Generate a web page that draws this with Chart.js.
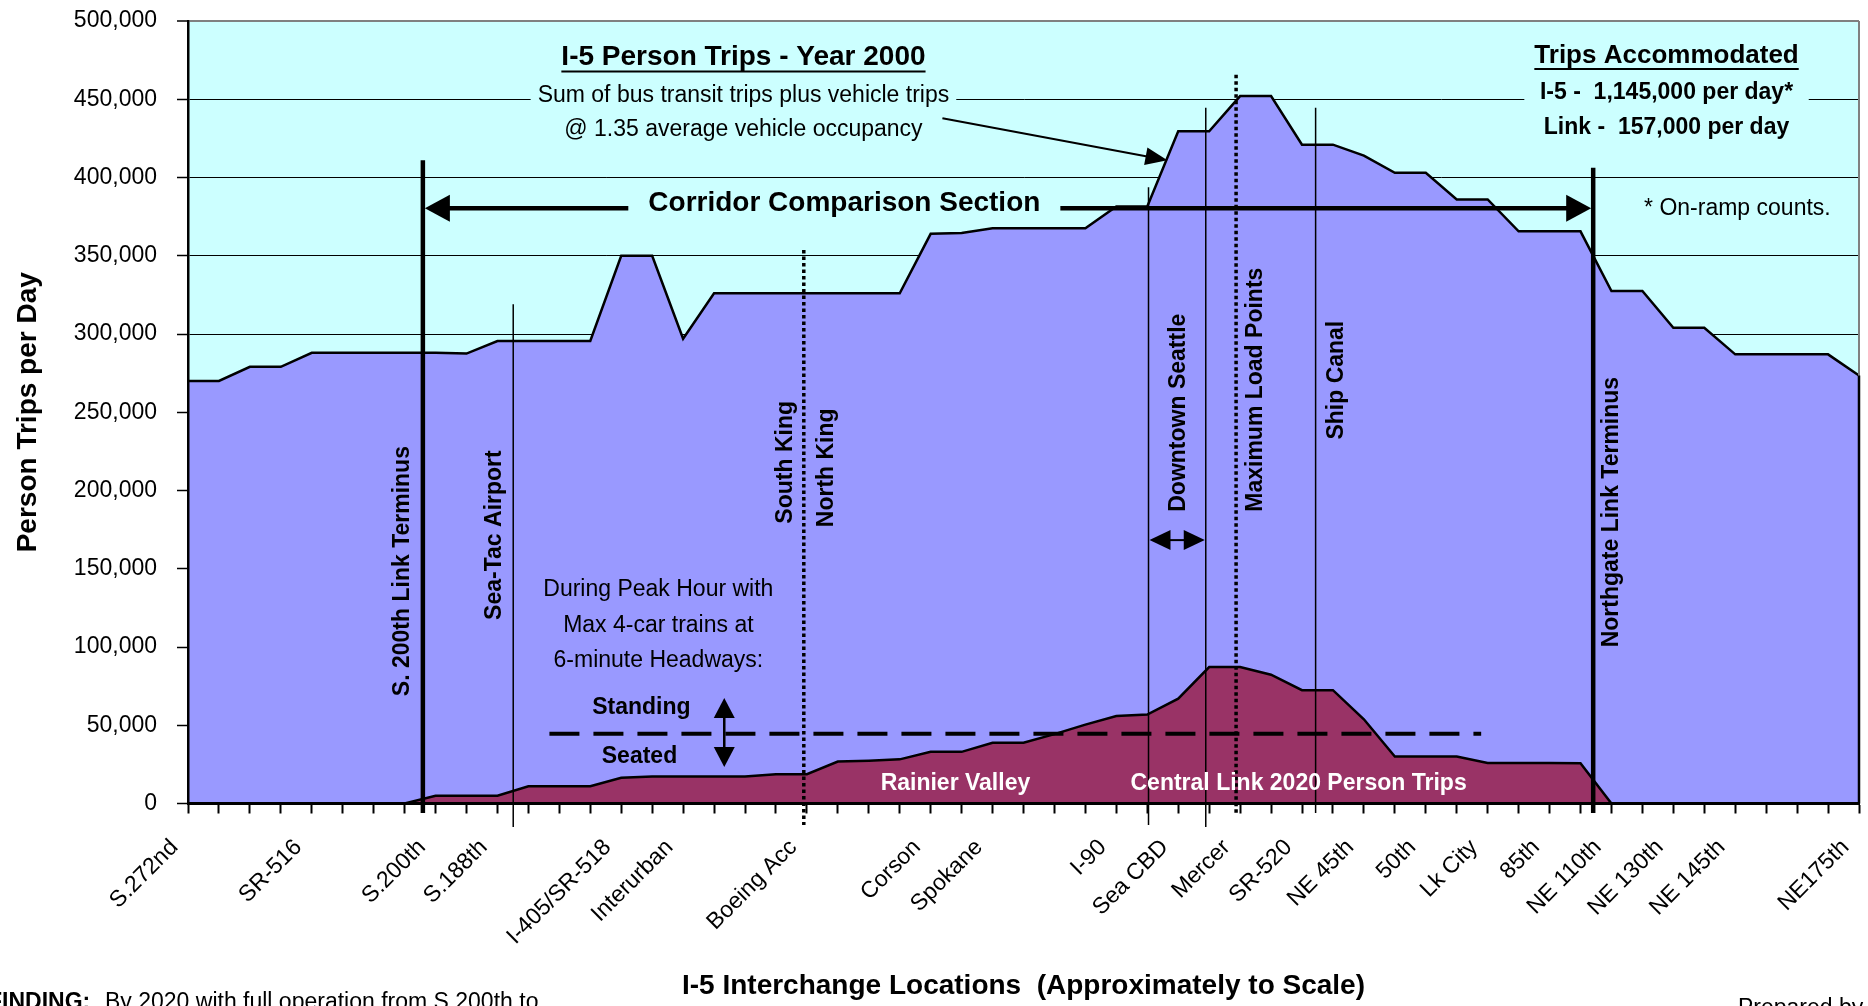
<!DOCTYPE html>
<html>
<head>
<meta charset="utf-8">
<title>I-5 Person Trips - Year 2000</title>
<script src="https://cdn.jsdelivr.net/npm/chart.js@4.4.1/dist/chart.umd.min.js"></script>
<style>
    html, body { margin: 0; padding: 0; background: #ffffff; overflow: hidden; }
    canvas { display: block; }
</style>
</head>
<body>
<canvas id="tripsChart" width="1868" height="1006"></canvas>
<script>
// one slot per tick on the x axis, most of them unlabeled
const interchanges = [
    'S.272nd', '', '', '', 'SR-516',
    '', '', '', 'S.200th', '',
    'S.188th', '', '', '', 'I-405/SR-518',
    '', 'Interurban', '', '', '',
    'Boeing Acc', '', '', '', 'Corson',
    '', 'Spokane', '', '', '',
    'I-90', '', 'Sea CBD', '', 'Mercer',
    '', 'SR-520', '', 'NE 45th', '',
    '50th', '', 'Lk City', '', '85th',
    '', 'NE 110th', '', 'NE 130th', '',
    'NE 145th', '', '', '', 'NE175th'
];

// I-5 person trips, year 2000
const i5Trips = [
    270000, 270000, 279000, 279000, 288000,
    288000, 288000, 288000, 288000, 287500,
    295500, 295500, 295500, 295500, 350000,
    350000, 297000, 326000, 326000, 326000,
    326000, 326000, 326000, 326000, 364000,
    364500, 367500, 367500, 367500, 367500,
    381500, 381500, 429500, 429500, 452000,
    452000, 421000, 421000, 414000, 403000,
    403000, 386000, 386000, 365600, 365600,
    365600, 327500, 327500, 304000, 304000,
    287000, 287000, 287000, 287000, 273500
];

// Central Link 2020 person trips
const linkTrips = [
    0, 0, 0, 0, 0,
    0, 0, 0, 5000, 5000,
    5000, 11000, 11000, 11000, 16500,
    17300, 17300, 17300, 17300, 18700,
    18700, 26800, 27300, 28200, 33000,
    33000, 38800, 38800, 44300, 50400,
    55900, 56800, 67000, 87200, 87200,
    82300, 72400, 72400, 53800, 30000,
    30000, 30000, 25900, 25900, 25900,
    25700, 0, 0, 0, 0,
    0, 0, 0, 0, 0
];

const yTicks = [0, 50000, 100000, 150000, 200000, 250000, 300000, 350000, 400000, 450000, 500000];

const PLOT_BG = '#CCFFFF';

function fontExists(name) {
    const c = document.createElement('canvas').getContext('2d');
    const s = 'Wg0123456789 abcdefghijklmnopqrstuvwxyz';
    c.font = '40px monospace';
    const w0 = c.measureText(s).width;
    c.font = '40px "' + name + '", monospace';
    return c.measureText(s).width !== w0;
}
const hasNarrow = fontExists('Liberation Sans Narrow');
const smallFamily = hasNarrow ? '"Liberation Sans Narrow", "Liberation Sans", sans-serif' : '"Liberation Sans", Arial, sans-serif';
const smallSize = hasNarrow ? 28 : 23;
const bigFamily = '"Liberation Sans", Arial, sans-serif';
const SMALL = smallSize + 'px ' + smallFamily;
const SMALL_BOLD = 'bold ' + SMALL;
const BIG_BOLD = 'bold 28px ' + bigFamily;

Chart.defaults.color = '#000';
Chart.defaults.font.family = smallFamily;

function seg(ctx, x1, y1, x2, y2) {
    ctx.beginPath();
    ctx.moveTo(x1, y1);
    ctx.lineTo(x2, y2);
    ctx.stroke();
}

// filled arrow head, tip at (x, y), pointing along (dx, dy)
function head(ctx, x, y, dx, dy, len, half) {
    const d = Math.hypot(dx, dy);
    const ux = dx / d, uy = dy / d;
    ctx.beginPath();
    ctx.moveTo(x, y);
    ctx.lineTo(x - ux * len - uy * half, y - uy * len + ux * half);
    ctx.lineTo(x - ux * len + uy * half, y - uy * len - ux * half);
    ctx.closePath();
    ctx.fill();
}

function label(ctx, str, x, y, font, color, vertical) {
    ctx.save();
    ctx.font = font;
    ctx.fillStyle = color || '#000';
    ctx.textAlign = 'center';
    ctx.textBaseline = 'middle';
    ctx.translate(x, y);
    if (vertical) ctx.rotate(-Math.PI / 2);
    ctx.fillText(str, 0, 0);
    const w = ctx.measureText(str).width;
    ctx.restore();
    return w;
}

function textWidth(ctx, str, font) {
    ctx.save();
    ctx.font = font;
    const w = ctx.measureText(str).width;
    ctx.restore();
    return w;
}

// marker lines, in category index / trips units
const vMarkers = [
    { at: 7.59, from: 411000, to: -6000, w: 4.5 },
    { at: 10.51, from: 319000, to: -15000, w: 1.5 },
    { at: 19.9, from: 353700, to: -13700, w: 3.5, dash: [3.5, 3] },
    { at: 31.04, from: 393800, to: -13700, w: 1.5 },
    { at: 32.89, from: 444500, to: -15000, w: 1.5 },
    { at: 33.87, from: 465600, to: -6000, w: 3.5, dash: [3.5, 3] },
    { at: 36.44, from: 444500, to: -6000, w: 1.5 },
    { at: 45.41, from: 406200, to: -6000, w: 4.5 }
];

const vLabels = [
    ['S. 200th Link Terminus', 6.93, 148500],
    ['Sea-Tac Airport', 9.92, 171500],
    ['South King', 19.3, 218000],
    ['North King', 20.65, 214500],
    ['Downtown Seattle', 32.0, 249700],
    ['Maximum Load Points', 34.49, 264400],
    ['Ship Canal', 37.11, 270500],
    ['Northgate Link Terminus', 46.0, 186200]
];

const notes = {
    id: 'notes',
    beforeDraw(chart) {
        const { ctx, chartArea: a } = chart;
        ctx.save();
        ctx.fillStyle = PLOT_BG;
        ctx.fillRect(a.left, a.top, a.right - a.left, a.bottom - a.top);
        ctx.restore();
    },
    afterDatasetsDraw(chart) {
        const { ctx, chartArea: a } = chart;
        const X = i => chart.scales.x.getPixelForValue(i);
        const Y = v => chart.scales.y.getPixelForValue(v);
        ctx.save();
        ctx.lineCap = 'butt';

        // right frame and closing edge of the I-5 area
        ctx.strokeStyle = '#808080';
        ctx.lineWidth = 2;
        seg(ctx, a.right, a.top, a.right, a.bottom);
        const pts = chart.getDatasetMeta(0).data;
        const last = pts[pts.length - 1];
        ctx.strokeStyle = '#000';
        ctx.lineWidth = 2.5;
        seg(ctx, last.x, last.y, last.x, a.bottom);

        // vertical markers
        vMarkers.forEach(m => {
            ctx.lineWidth = m.w;
            ctx.setLineDash(m.dash || []);
            seg(ctx, X(m.at), Y(m.from), X(m.at), Y(m.to));
        });
        ctx.setLineDash([]);
        vLabels.forEach(l => label(ctx, l[0], X(l[1]), Y(l[2]), SMALL_BOLD, '#000', true));

        // title block
        const tx = X(17.95);
        const tw = label(ctx, 'I-5 Person Trips - Year 2000', tx, Y(477000), BIG_BOLD);
        ctx.lineWidth = 2;
        seg(ctx, tx - tw / 2, Y(477000) + 14.5, tx + tw / 2, Y(477000) + 14.5);
        const sumText = 'Sum of bus transit trips plus vehicle trips';
        const sw = textWidth(ctx, sumText, SMALL);
        ctx.fillStyle = PLOT_BG;
        ctx.fillRect(tx - sw / 2 - 7, Y(450000) - 4, sw + 14, 8);
        label(ctx, sumText, tx, Y(452000), SMALL);
        label(ctx, '@ 1.35 average vehicle occupancy', tx, Y(430800), SMALL);

        // arrow to the I-5 curve
        ctx.fillStyle = '#000';
        ctx.lineWidth = 2;
        const ax1 = X(24.38), ay1 = Y(437800), ax2 = X(31.65), ay2 = Y(411000);
        seg(ctx, ax1, ay1, ax2 - (ax2 - ax1) * 0.06, ay2 - (ay2 - ay1) * 0.06);
        head(ctx, ax2, ay2, ax2 - ax1, ay2 - ay1, 22, 9);

        // trips accommodated block
        const rx = X(47.78);
        const l1 = 'I-5 -  1,145,000 per day*', l2 = 'Link -  157,000 per day';
        const bw = Math.max(textWidth(ctx, 'Trips Accommodated', 'bold 26px ' + bigFamily),
            textWidth(ctx, l1, SMALL_BOLD), textWidth(ctx, l2, SMALL_BOLD));
        ctx.fillStyle = PLOT_BG;
        ctx.fillRect(rx - bw / 2 - 10, Y(450000) - 4, bw + 20, 8);
        const aw = label(ctx, 'Trips Accommodated', rx, Y(478000), 'bold 26px ' + bigFamily);
        ctx.lineWidth = 2;
        seg(ctx, rx - aw / 2, Y(478000) + 13.5, rx + aw / 2, Y(478000) + 13.5);
        label(ctx, l1, rx, Y(454400), SMALL_BOLD);
        label(ctx, l2, rx, Y(432000), SMALL_BOLD);
        label(ctx, '* On-ramp counts.', X(50.07), Y(380300), SMALL);

        // corridor comparison arrow
        const cy = Y(380300), cx = X(21.21);
        const cw = label(ctx, 'Corridor Comparison Section', cx, Y(383500), BIG_BOLD);
        const xl = X(7.59) + 2, xr = X(45.41) - 2;
        ctx.fillStyle = '#000';
        ctx.lineWidth = 4.5;
        seg(ctx, xl + 20, cy, cx - cw / 2 - 20, cy);
        seg(ctx, cx + cw / 2 + 20, cy, xr - 20, cy);
        head(ctx, xl, cy, -1, 0, 25, 13.5);
        head(ctx, xr, cy, 1, 0, 25, 13.5);

        // downtown span arrow
        const dy = Y(168300), d1 = X(31.04) + 1, d2 = X(32.89) - 1;
        ctx.lineWidth = 2;
        seg(ctx, d1 + 15, dy, d2 - 15, dy);
        head(ctx, d1, dy, -1, 0, 21, 10);
        head(ctx, d2, dy, 1, 0, 21, 10);

        // peak hour capacity note
        const px = X(15.2);
        label(ctx, 'During Peak Hour with', px, Y(136400), SMALL);
        label(ctx, 'Max 4-car trains at', px, Y(113400), SMALL);
        label(ctx, '6-minute Headways:', px, Y(91300), SMALL);
        label(ctx, 'Standing', X(14.65), Y(61000), SMALL_BOLD);
        label(ctx, 'Seated', X(14.59), Y(29700), SMALL_BOLD);
        const sx = X(17.33), s1 = Y(67400), s2 = Y(23300);
        ctx.lineWidth = 2.5;
        seg(ctx, sx, s1 + 15, sx, s2 - 15);
        head(ctx, sx, s1, 0, -1, 20, 10.5);
        head(ctx, sx, s2, 0, 1, 20, 10.5);
        ctx.lineWidth = 4;
        ctx.setLineDash([30, 14]);
        seg(ctx, X(11.68), Y(44500), X(41.79), Y(44500));
        ctx.setLineDash([]);

        label(ctx, 'Rainier Valley', X(24.8), Y(12500), 'bold 23px ' + bigFamily, '#ffffff');
        label(ctx, 'Central Link 2020 Person Trips', X(35.89), Y(12500), 'bold 23px ' + bigFamily, '#ffffff');
        ctx.restore();
    },
    afterDraw(chart) {
        const { ctx } = chart;
        ctx.save();
        ctx.fillStyle = '#000';
        ctx.textBaseline = 'alphabetic';
        ctx.textAlign = 'left';
        ctx.font = 'bold 23px ' + bigFamily;
        ctx.fillText('FINDING:', -12, 1009);
        ctx.font = '23px ' + bigFamily;
        ctx.fillText('By 2020 with full operation from S.200th to', 105, 1009);
        ctx.fillText('Prepared by', 1738, 1015);
        ctx.restore();
    }
};

new Chart(document.getElementById('tripsChart'), {
    type: 'line',
    data: {
        labels: interchanges,
        datasets: [
            {
                label: 'I-5 Person Trips - Year 2000',
                data: i5Trips,
                order: 1,
                fill: 'origin',
                backgroundColor: '#9999FF',
                borderColor: '#000000',
                borderWidth: 2.5
            },
            {
                label: 'Central Link 2020 Person Trips',
                data: linkTrips,
                order: 0,
                fill: 'origin',
                backgroundColor: '#993366',
                borderColor: '#000000',
                borderWidth: 2.5
            }
        ]
    },
    options: {
        responsive: false,
        animation: false,
        events: [],
        layout: { padding: { left: 0, right: 9, top: 21, bottom: 0 } },
        elements: { point: { radius: 0 }, line: { tension: 0 } },
        plugins: { legend: { display: false }, tooltip: { enabled: false } },
        scales: {
            x: {
                type: 'category',
                offset: false,
                grid: { drawOnChartArea: false, drawTicks: true, tickLength: 10, tickColor: '#000', tickWidth: 2 },
                border: { color: '#000', width: 3, z: 1 },
                ticks: {
                    autoSkip: false,
                    minRotation: 45,
                    maxRotation: 45,
                    padding: 7,
                    color: '#000',
                    font: { family: smallFamily, size: smallSize },
                    callback: (v, i) => interchanges[i] ? interchanges[i] + '   ' : ''
                },
                title: {
                    display: true,
                    text: 'I-5 Interchange Locations  (Approximately to Scale)',
                    color: '#000',
                    font: { family: bigFamily, size: 28, weight: 'bold' },
                    padding: { top: 0, bottom: 3 }
                },
                afterFit: s => { s.height = 202.5; s.paddingLeft = 0; s.paddingRight = 0; }
            },
            y: {
                min: 0,
                max: 500000,
                afterBuildTicks: s => { s.ticks = yTicks.map(v => ({ value: v })); },
                ticks: {
                    padding: 20,
                    color: '#000',
                    font: { family: smallFamily, size: smallSize },
                    callback: v => v.toLocaleString('en-US')
                },
                grid: {
                    color: c => (c.tick && c.tick.value === 500000) ? '#808080' : '#000',
                    lineWidth: c => (c.tick && c.tick.value === 500000) ? 2 : 1,
                    tickLength: 11,
                    tickColor: '#000',
                    tickWidth: 1.5
                },
                border: { color: '#000', width: 2.5, z: 1 },
                title: {
                    display: true,
                    text: 'Person Trips per Day',
                    color: '#000',
                    font: { family: bigFamily, size: 28, weight: 'bold' },
                    padding: { top: 11, bottom: 0 }
                },
                afterFit: s => { s.width = 188; s.paddingTop = 0; s.paddingBottom = 0; }
            }
        }
    },
    plugins: [notes]
});
</script>
</body>
</html>
